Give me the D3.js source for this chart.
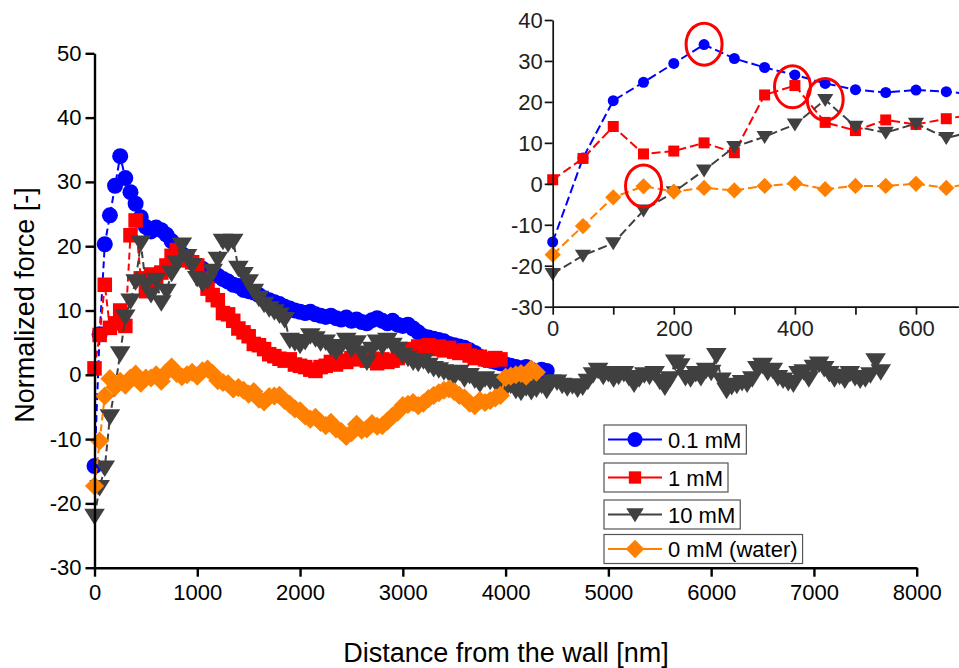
<!DOCTYPE html>
<html><head><meta charset="utf-8">
<script src="https://cdn.jsdelivr.net/npm/d3@7"></script>
<style>body{margin:0;background:#fff}svg{display:block;font-family:"Liberation Sans",Arial,sans-serif}</style>
</head><body><svg id="c" width="959" height="668"></svg>
<script>
// sampling step of the measurements [nm]
const step = 50;
// Normalized force [-] per series, one value per step starting at 0 nm
const blue = [-14.2,6.3,20.3,24.8,29.4,34.0,30.6,28.4,26.6,24.5,23.0,22.3,22.9,22.5,
21.8,20.8,19.8,18.8,18.0,17.5,16.9,16.5,16.0,15.8,15.4,14.9,14.5,14.0,13.8,13.2,13.0,12.8,12.4,11.9,11.6,
11.3,11.0,10.6,10.3,10.0,9.8,9.6,9.8,9.4,9.2,9.0,9.2,8.8,8.6,8.9,8.4,8.6,8.2,8.0,8.5,8.8,8.4,8.0,8.4,7.8,
7.6,7.8,7.2,6.6,6.0,5.8,5.6,5.4,5.2,4.8,4.6,4.4,4.2,3.8,3.4,2.8,2.4,2.2,2.0,1.8,1.6,1.4,1.2,1.0,1.2,0.8,0.4,0.8,0.6];
const red = [1.0,6.2,14.0,7.3,8.0,10.0,7.6,21.7,24.0,15.0,13.0,15.6,14.5,15.9,
17.0,18.5,19.4,17.8,18.2,17.5,17.0,15.0,13.4,12.4,11.6,9.6,9.4,8.4,7.2,6.6,6.0,4.8,4.6,4.0,3.2,
2.9,2.5,2.2,2.4,1.6,1.4,1.2,0.8,0.6,1.2,1.4,2.0,1.6,2.2,2.0,2.6,2.4,2.6,2.2,2.5,1.8,2.4,2.0,2.2,2.6,
3.2,4.0,3.8,4.4,4.2,4.6,4.0,4.4,3.8,4.2,3.6,3.4,3.8,3.0,2.6,2.8,2.4,2.2,2.6,2.4];
const dark = [-22,-17.5,-14.5,-6.5,-2,3.3,9,11.5,14.5,20.5,14,12.5,14.7,11.2,
13,15.8,17.4,20.2,18.4,17.0,15.0,14.2,14.6,16.1,18.0,20.8,20.4,20.8,16.6,15.6,14.5,13.0,11.9,11.0,10.3,
9.8,9.3,8.6,5.4,5.0,4.6,5.2,6.1,5.6,5.0,5.1,4.2,3.6,4.4,5.4,4.0,5.0,3.4,2.0,4.0,5.1,4.4,5.4,4.6,4.0,
3.0,2.6,2.0,1.8,2.2,1.5,1.0,0.8,0.5,0.2,-0.3,0.4,-0.6,-0.1,-0.8,-1.4,-0.6,-1.0,-1.1,-1.8,-2.2,-1.6,-2.4,
-2.7,-2.0,-2.6,-2.2,-1.6,-2.4,-1.1,-1.1,-1.6,-2.0,-1.7,-2.2,-1.9,-1.0,0.0,0.7,-0.2,0.2,-0.6,
-0.2,0.2,-0.4,-1.4,-0.6,0.0,-0.2,0.2,-1.0,-1.9,-0.6,2.0,1.4,-0.4,-0.6,0.2,-0.4,0.7,0.4,3.0,-0.8,
-2.4,-1.8,-1.6,-1.2,-1.4,-0.6,1.0,1.5,0.4,0.7,-0.4,-0.8,-1.2,-1.4,0.2,0.5,-0.6,1.2,1.7,1.0,
0.2,-0.6,-0.2,-0.8,0.2,-0.4,-0.8,-0.6,0.0,2.2,0.5];
const water = [-17.3,-10.3,-3.3,-0.6,-1.9,-1.0,-1.6,-0.5,0.1,-1.3,-0.5,-0.5,0.0,-1.0,
0.4,1.2,0.2,-0.3,0.0,0.4,-0.2,0.6,0.9,0.2,-0.9,-1.2,-1.4,-2.2,-2.0,-2.4,-3.0,-2.6,-3.8,-4.2,-3.4,
-3.3,-3.2,-4.0,-4.6,-5.3,-5.6,-6.4,-6.9,-6.6,-7.4,-7.9,-7.4,-8.4,-8.8,-9.6,-9.0,-7.7,-8.6,-8.4,-7.6,
-8.0,-7.9,-7.2,-6.4,-5.8,-4.8,-4.6,-4.3,-4.8,-4.4,-3.7,-3.2,-2.8,-2.4,-2.2,-2.6,-3.2,-3.6,-4.4,-4.8,
-4.0,-4.3,-4.0,-3.6,-3.2,-0.4,-0.2,0.0,0.2,-0.2,0.9,0.4];

const seriesNames = ["0.1 mM","1 mM","10 mM","0 mM (water)"];
const seriesColors = ["#0000ff","#ff0000","#404040","#ff8000"];
const seriesShapes = ["circle","square","triangle","diamond"];
const seriesValues = [blue, red, dark, water];

const mainXTicks = [0,1000,2000,3000,4000,5000,6000,7000,8000];
const mainYTicks = [-30,-20,-10,0,10,20,30,40,50];
const insetXTicks = [0,100,200,300,400,500,600];
const insetXLabels = [0,200,400,600];
const insetYTicks = [-30,-20,-10,0,10,20,30,40];
// highlighted peaks in the inset [nm, force]
const peakX = [250,396,450,150];
const peakY = [34.1,23.7,20.6,-0.5];

const svg = d3.select("#c");
const font = '"Liberation Sans",Arial,sans-serif';

function shapePath(shape, s){
  if(shape==="circle"){ const r=s/2; return `M${r},0A${r},${r} 0 1,1 ${-r},0A${r},${r} 0 1,1 ${r},0Z`; }
  if(shape==="square"){ const h=s/2*0.88; return `M${-h},${-h}H${h}V${h}H${-h}Z`; }
  if(shape==="triangle"){ const w=s*1.25/2, h=s; return `M${-w},${-h*0.45}L${w},${-h*0.45}L0,${h*0.55}Z`; }
  if(shape==="diamond"){ const d=s*0.58; return `M0,${-d}L${d},0L0,${d}L${-d},0Z`; }
}

const datasets = seriesValues.map((vals,k)=>({
  name: seriesNames[k], color: seriesColors[k], shape: seriesShapes[k],
  pts: vals.map((v,i)=>({x:i*step, y:v}))
}));

// ---------- main chart ----------
const x = d3.scaleLinear().domain([0,8000]).range([94.5,916.7]);
const y = d3.scaleLinear().domain([-30,50]).range([567.7,53.3]);
const main = svg.append("g");

const line = d3.line().x(d=>x(d.x)).y(d=>y(d.y));
const markSize = {circle:16, square:16.5, triangle:16.5, diamond:16.5};
datasets.forEach(ds=>{
  const g = main.append("g");
  g.append("path").attr("d", line(ds.pts)).attr("fill","none")
    .attr("stroke", ds.color).attr("stroke-width",2).attr("stroke-dasharray","7,4");
  g.selectAll("path.m").data(ds.pts).join("path").attr("class","m")
    .attr("d", shapePath(ds.shape, markSize[ds.shape]))
    .attr("transform", d=>`translate(${x(d.x)},${y(d.y)})`)
    .attr("fill", ds.color);
});

// axes
const axX = main.append("g").attr("transform",`translate(0,${y(-30)})`)
  .call(d3.axisBottom(x).tickValues(mainXTicks).tickSize(9).tickSizeOuter(0).tickPadding(8).tickFormat(d3.format("d")));
const axY = main.append("g").attr("transform",`translate(${x(0)},0)`)
  .call(d3.axisLeft(y).tickValues(mainYTicks).tickSize(9).tickSizeOuter(0).tickPadding(4).tickFormat(d3.format("d")));
[axX,axY].forEach(a=>{
  a.select(".domain").attr("stroke","#000").attr("stroke-width",2.4);
  a.selectAll(".tick line").attr("stroke","#000").attr("stroke-width",2.4);
  a.selectAll(".tick text").attr("font-family",font).attr("font-size",22).attr("fill","#000");
});
axY.selectAll(".tick text").text(d=>d<0?"-"+Math.abs(d):d);

main.append("text").attr("transform","translate(34,305) rotate(-90)")
  .attr("text-anchor","middle").attr("font-family",font).attr("font-size",27).text("Normalized force [-]");
main.append("text").attr("x",506).attr("y",662)
  .attr("text-anchor","middle").attr("font-family",font).attr("font-size",27).text("Distance from the wall [nm]");

// ---------- inset ----------
const ix = d3.scaleLinear().domain([0,600]).range([552.7,916]);
const iy = d3.scaleLinear().domain([-30,40]).range([306.7,20]);
const inset = svg.append("g");
const iline = d3.line().x(d=>ix(d.x)).y(d=>iy(d.y));
const insetSize = {circle:11, square:12.5, triangle:13, diamond:14};
datasets.forEach(ds=>{
  const pts = ds.pts.filter(d=>d.x<=700);
  const g = inset.append("g");
  g.append("path").attr("d", iline(pts)).attr("fill","none")
    .attr("stroke", ds.color).attr("stroke-width",2).attr("stroke-dasharray","9,4");
  g.selectAll("path.m").data(pts).join("path").attr("class","m")
    .attr("d", shapePath(ds.shape, insetSize[ds.shape]))
    .attr("transform", d=>`translate(${ix(d.x)},${iy(d.y)})`)
    .attr("fill", ds.color);
});
const iaxX = inset.append("g").attr("transform",`translate(0,${iy(-30)})`)
  .call(d3.axisBottom(ix.copy().domain([0,670]).range([552.7, 552.7+670*(916-552.7)/600]))
    .tickValues(insetXTicks).tickSize(8).tickSizeOuter(0).tickPadding(6)
    .tickFormat(d=>insetXLabels.includes(d)?d:""));
const iaxY = inset.append("g").attr("transform",`translate(${ix(0)},0)`)
  .call(d3.axisLeft(iy).tickValues(insetYTicks).tickSize(8).tickSizeOuter(0).tickPadding(2).tickFormat(d=>d<0?"-"+Math.abs(d):d));
[iaxX,iaxY].forEach(a=>{
  a.select(".domain").attr("stroke","#111").attr("stroke-width",1.7);
  a.selectAll(".tick line").attr("stroke","#111").attr("stroke-width",1.7);
  a.selectAll(".tick text").attr("font-family",font).attr("font-size",22).attr("fill","#222");
});
iaxY.selectAll(".tick text").attr("dy","0.36em");

inset.selectAll("ellipse.pk").data(peakX.map((px,i)=>({x:px,y:peakY[i]}))).join("ellipse")
  .attr("class","pk").attr("cx",d=>ix(d.x)).attr("cy",d=>iy(d.y))
  .attr("rx",18).attr("ry",21).attr("fill","none").attr("stroke","#ff0000").attr("stroke-width",3);

// ---------- legend ----------
const legY = [425,463,500,534.5];
const leg = svg.append("g");
datasets.forEach((ds,k)=>{
  const g = leg.append("g").attr("transform",`translate(604,${legY[k]})`);
  const rect = g.append("rect").attr("x",0).attr("y",0).attr("height",29)
    .attr("fill","#fff").attr("stroke","#555").attr("stroke-width",1.2);
  g.append("line").attr("x1",4).attr("x2",58).attr("y1",14.5).attr("y2",14.5)
    .attr("stroke",ds.color).attr("stroke-width",2);
  const ls = {circle:15, square:14, triangle:14, diamond:16};
  g.append("path").attr("d",shapePath(ds.shape, ls[ds.shape])).attr("transform","translate(31,14.5)").attr("fill",ds.color);
  const t = g.append("text").attr("x",64).attr("y",22.5).attr("font-family",font).attr("font-size",22).text(ds.name);
  const w = t.node().getComputedTextLength();
  rect.attr("width",64+w+5);
});
</script></body></html>
